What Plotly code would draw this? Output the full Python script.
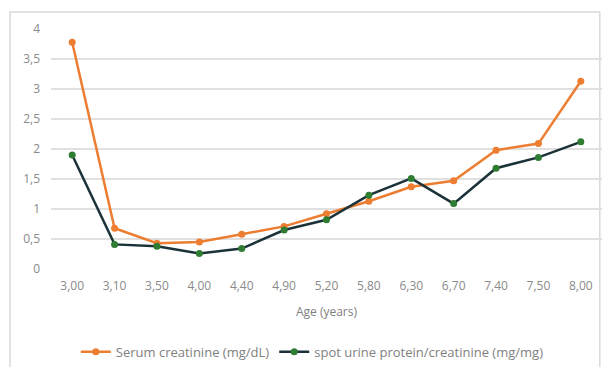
import plotly.graph_objects as go

ages = ["3,00", "3,10", "3,50", "4,00", "4,40", "4,90", "5,20", "5,80", "6,30", "6,70", "7,40", "7,50", "8,00"]
serum_creatinine = [3.78, 0.68, 0.43, 0.45, 0.58, 0.71, 0.92, 1.13, 1.37, 1.47, 1.98, 2.09, 3.13]
urine_ratio = [1.90, 0.41, 0.38, 0.26, 0.34, 0.65, 0.82, 1.23, 1.51, 1.09, 1.68, 1.86, 2.12]
y_ticks = [0, 0.5, 1, 1.5, 2, 2.5, 3, 3.5, 4]
y_tick_text = ["0", "0,5", "1", "1,5", "2", "2,5", "3", "3,5", "4"]

fig = go.Figure()
fig.add_trace(go.Scatter(
    x=ages, y=serum_creatinine, mode="lines+markers",
    name="Serum creatinine (mg/dL)",
    line=dict(color="#ED7D31", width=2.5),
    marker=dict(color="#ED7D31", size=7),
))
fig.add_trace(go.Scatter(
    x=ages, y=urine_ratio, mode="lines+markers",
    name="spot urine protein/creatinine (mg/mg)",
    line=dict(color="#1B3238", width=2.5),
    marker=dict(color="#2E7D32", size=7),
))

fig.update_layout(
    width=605, height=359,
    margin=dict(l=43, r=11, t=21, b=98, autoexpand=False),
    paper_bgcolor="white", plot_bgcolor="white",
    font=dict(family="Open Sans, Lato, sans-serif", size=12, color="#7f7f7f"),
    showlegend=True,
    legend=dict(orientation="h", x=0.045, xanchor="left", y=-0.345, yanchor="middle",
                font=dict(size=13, color="#7f7f7f"), itemwidth=30),
    xaxis=dict(
        type="category", range=[-0.5, len(ages) - 0.5],
        showgrid=False, showline=False, ticks="",
        ticklabelstandoff=8,
        title=dict(text="Age (years)", standoff=14, font=dict(size=12, color="#7f7f7f")),
        tickfont=dict(size=12, color="#8a8a8a"),
    ),
    yaxis=dict(
        range=[0, 4], tickvals=y_ticks, ticktext=y_tick_text,
        showgrid=True, gridcolor="#e0e0e0", gridwidth=1.5, zeroline=False,
        showline=False, ticks="", ticklabelstandoff=10,
        tickfont=dict(size=12, color="#8a8a8a"),
    ),
    shapes=[dict(type="rect", xref="paper", yref="paper", x0=-0.0744, x1=0.996, y0=-0.47, y1=1.071,
                 line=dict(color="#d9d9d9", width=1.5), layer="below")],
)

fig.write_html("out.html")
